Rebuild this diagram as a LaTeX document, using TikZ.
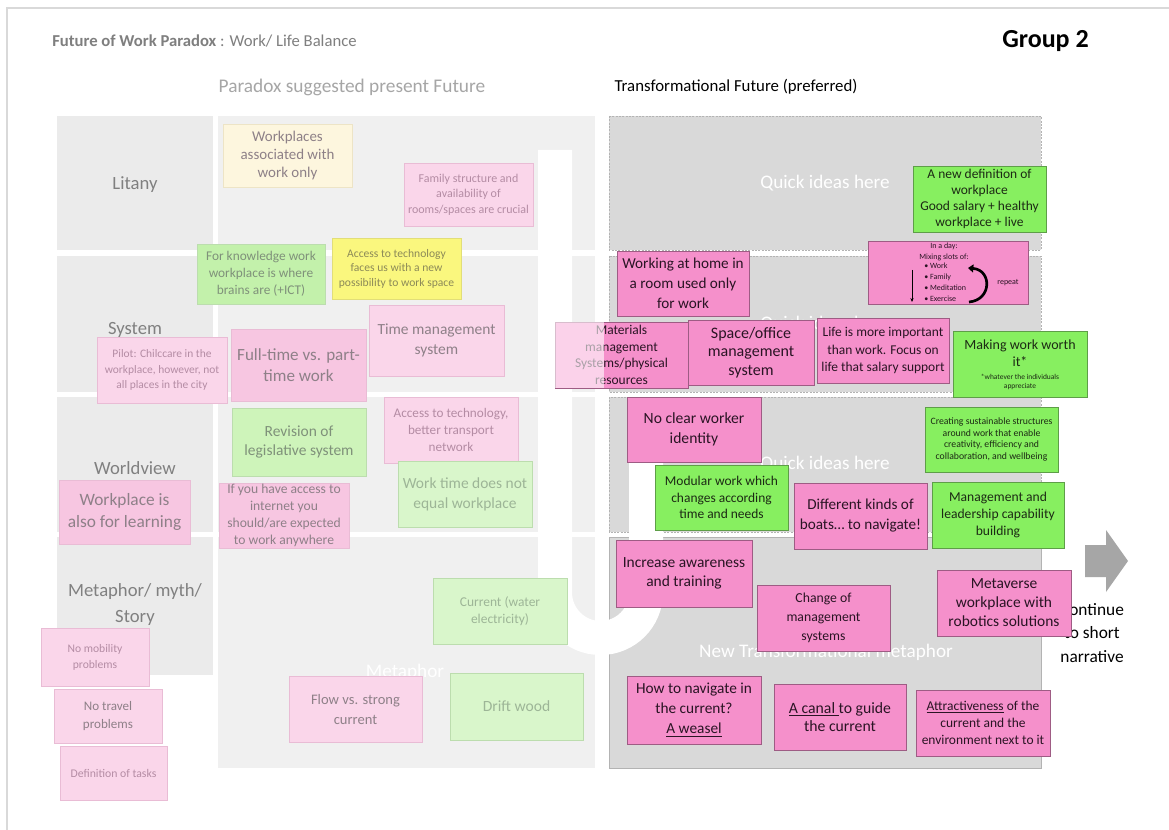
\documentclass[tikz,border=0pt]{standalone}
\usepackage{fontspec}
\setmainfont{Carlito}
\usetikzlibrary{arrows.meta}

\definecolor{frameline}{HTML}{D9D9D9}
\definecolor{titlegray}{HTML}{7F7F7F}
\definecolor{headgray}{HTML}{A6A6A6}
\definecolor{labelcell}{HTML}{EBEBEB}
\definecolor{contentcell}{HTML}{F0F0F0}
\definecolor{labeltext}{HTML}{808080}
\definecolor{panelfill}{HTML}{D9D9D9}
\definecolor{paneledge}{HTML}{B3B3B3}
\definecolor{arrowgray}{HTML}{A6A6A6}
% faded notes of the present-future side
\definecolor{pinkpale}{HTML}{FAD6EA}
\definecolor{pinkmid}{HTML}{F7C6E1}
\definecolor{pinkpaleedge}{HTML}{E9BCD5}
\definecolor{greenstrong}{HTML}{C3F1AB}
\definecolor{greenmid}{HTML}{CEF4BA}
\definecolor{greenpale}{HTML}{D9F6CB}
\definecolor{greenpaleedge}{HTML}{BCDDAE}
\definecolor{yellowpale}{HTML}{FAF77E}
\definecolor{yellowedge}{HTML}{E2DE78}
\definecolor{creampale}{HTML}{FDF6DE}
\definecolor{creamedge}{HTML}{EDE4C6}
\definecolor{fadetext}{HTML}{8E8088}
\definecolor{fadegreentext}{HTML}{7F917A}
\definecolor{fadegreenlight}{HTML}{9DB597}
\definecolor{fadesmalltext}{HTML}{B48CA4}
\definecolor{fadeyellowtext}{HTML}{8C8A58}
% bright notes of the transformational side
\definecolor{pinkbright}{HTML}{F590CB}
\definecolor{pinkedge}{HTML}{9E5C84}
\definecolor{greenbright}{HTML}{87EF60}
\definecolor{greenedge}{HTML}{5E9E48}
\definecolor{notetext}{HTML}{2A1424}
\definecolor{greentext}{HTML}{1C2A14}

\newcommand\fz[2]{\fontsize{#1}{#2}\selectfont}

\begin{document}
\begin{tikzpicture}[x=0.75pt, y=-0.75pt,
  wh/.style 2 args={minimum width=#1*0.75pt, minimum height=#2*0.75pt},
  note/.style={rectangle, inner sep=0pt, align=center, line width=0.5pt},
  fpink/.style={note, fill=pinkpale, draw=pinkpaleedge, text=fadetext},
  fpinkmid/.style={note, fill=pinkmid, draw=pinkpaleedge, text=fadetext},
  fgreen/.style={note, fill=greenpale, draw=greenpaleedge, text=fadegreentext},
  fgreenstrong/.style={note, fill=greenstrong, draw=greenpaleedge, text=fadegreentext},
  fyellow/.style={note, fill=yellowpale, draw=yellowedge, text=fadeyellowtext},
  fcream/.style={note, fill=creampale, draw=creamedge, text=fadetext!90!gray},
  bpink/.style={note, fill=pinkbright, draw=pinkedge, text=notetext, line width=0.6pt},
  bgreen/.style={note, fill=greenbright, draw=greenedge, text=greentext, line width=0.6pt},
  panel/.style={fill=panelfill, draw=paneledge, line width=0.6pt, dash pattern=on 1.5pt off 1pt},
  paneltext/.style={text=white, font=\fz{14.4}{17}, inner sep=0pt},
  lab/.style={text=labeltext, font=\fz{14}{19.5}, align=center, inner sep=0pt},
  tiny/.style={text=notetext, font=\fz{6}{8.2}, inner sep=0pt}
]
\useasboundingbox (0,0) rectangle (1169,830);
\fill[white] (0,0) rectangle (1169,830);
\draw[frameline, line width=1.2pt] (7,850) -- (7,8) -- (1190,8);

% headings
\node[anchor=west, inner sep=0pt, font=\fz{12.5}{15}, text=titlegray] (title) at (52,41)
  {\textbf{Future of Work Paradox} : Work/ Life Balance};
\node[anchor=west, inner sep=0pt, font=\bfseries\fz{19.5}{23}] (group) at (1002,41) {Group 2};
\node[inner sep=0pt, font=\fz{14.5}{17}, text=headgray] (lefthead) at (352,87) {Paradox suggested present Future};
\node[inner sep=0pt, font=\fz{12.6}{15}] (righthead) at (736,87) {Transformational Future (preferred)};

% layer grid of the present-future side
\fill[labelcell] (57,116) rectangle (213,250);
\fill[labelcell] (57,256) rectangle (213,392);
\fill[labelcell] (57,397) rectangle (213,532);
\fill[labelcell] (57,537) rectangle (213,675);
\fill[contentcell] (218,116) rectangle (595,250);
\fill[contentcell] (218,256) rectangle (595,392);
\fill[contentcell] (218,397) rectangle (595,532);
\fill[contentcell] (218,537) rectangle (595,768);

\node[lab] (litany) at (135,185) {Litany};
\node[lab] (system) at (135,330) {System};
\node[lab] (worldview) at (135,468) {Worldview};
\node[lab] (myth) at (135,605) {Metaphor/ myth/\\Story};
\node[paneltext] (metaphorwm) at (405,672) {Metaphor};

% panels of the transformational side
\draw[panel] (609,116) rectangle (1041,250);
\draw[panel] (609,256) rectangle (1041,392);
\draw[panel] (609,397) rectangle (1041,532);
\draw[fill=panelfill, draw=paneledge, line width=0.6pt] (609,537) rectangle (1041,768);
\node[paneltext] (quick1) at (825,183) {Quick ideas here};
\node[paneltext] (quick2) at (825,324) {Quick ideas here};
\node[paneltext] (quick3) at (825,464) {Quick ideas here};
\node[paneltext] (newmeta) at (826,652) {New Transformational metaphor};

% white U-turn band between the two sides
\draw[white, line width=25.5pt] (555,150) -- (555,592.5)
  arc[start angle=180, end angle=360, radius=34.125pt] -- (646,400);

% faded notes
\node[fcream, wh={129}{63}, font=\fz{11.2}{13.5}] (workonly) at (287.5,155.5) {Workplaces\\associated with\\work only};
\node[fpink, wh={129}{63}, text=fadesmalltext, font=\fz{9}{11.5}] (family) at (468.5,194.5) {Family structure and\\availability of\\rooms/spaces are crucial};
\node[fgreenstrong, wh={128}{60}, font=\fz{10}{12.6}] (brains) at (261,274) {For knowledge work\\workplace is where\\brains are (+ICT)};
\node[fyellow, wh={129}{61}, font=\fz{8.7}{10.9}] (techspace) at (396.5,268.5) {Access to technology\\faces us with a new\\possibility to work space};
\node[fpink, wh={135}{71}, font=\fz{11.6}{15}] (timemgmt) at (436.5,340.5) {Time management\\system};
\node[fpink, wh={130}{66}, text=fadesmalltext, font=\fz{8.6}{11.6}] (pilot) at (162,370) {Pilot: Chilccare in the\\workplace, however, not\\all places in the city};
\node[fpinkmid, wh={135}{72}, font=\fz{12.8}{16}] (fulltime) at (298.5,365) {Full-time vs. part-\\time work};
\node[fgreen, fill=greenmid, wh={134}{68}, font=\fz{11.6}{14.7}] (legis) at (299,442) {Revision of\\legislative system};
\node[fpink, wh={134}{66}, text=fadesmalltext, font=\fz{9.9}{12.7}] (transport) at (451,430) {Access to technology,\\better transport\\network};
\node[fgreen, wh={134}{66}, text=fadegreenlight, font=\fz{11.6}{15}] (worktime) at (465,494) {Work time does not\\equal workplace};
\node[fpinkmid, wh={131}{64}, font=\fz{13}{17.2}] (learning) at (124.5,512) {Workplace is\\also for learning};
\node[fpinkmid, wh={130}{65}, font=\fz{10.2}{12.9}] (anywhere) at (284,515.5) {If you have access to\\internet you\\should/are expected\\to work anywhere};
\node[fgreen, wh={134}{66}, text=fadegreenlight, font=\fz{10.1}{13}] (current) at (500,611) {Current (water\\electricity)};
\node[fpink, wh={108}{58}, text=fadesmalltext, font=\fz{8.7}{12}] (nomobility) at (95,657) {No mobility\\problems};
\node[fpink, wh={108}{54}, font=\fz{9.8}{14}] (notravel) at (108,716) {No travel\\problems};
\node[fpink, wh={107}{54}, text=fadesmalltext, font=\fz{8.8}{11}] (tasks) at (113.5,773) {Definition of tasks};
\node[fpink, wh={133}{66}, font=\fz{10.9}{15}] (flow) at (355.5,709) {Flow vs. strong\\current};
\node[fgreen, wh={133}{67}, text=fadegreenlight, font=\fz{11.7}{14}] (drift) at (516.5,706.5) {Drift wood};

% continuation arrow and its caption
\fill[arrowgray] (1085,545) -- (1106,545) -- (1106,530) -- (1128,561) -- (1106,592) -- (1106,577) -- (1085,577) -- cycle;
\node[inner sep=0pt, align=center, font=\fz{13}{17.3}] (narrative) at (1092,633) {Continue\\to short\\narrative};

% bright notes
\node[bgreen, wh={133}{66}, font=\fz{10.1}{12.2}] (newdef) at (979.5,199) {A new definition of\\workplace\\Good salary + healthy\\workplace + live};

\node[bpink, wh={160}{63}] (inaday) at (948,272.5) {};
\node[tiny, align=center] (dayhead) at (944,252) {In a day:\\Mixing slots of:};
\node[tiny, align=left, anchor=north west] (dayslots) at (924,263) {• Work\\• Family\\• Meditation\\• Exercise};
\draw[-{Stealth[length=3pt,width=2.5pt]}, line width=0.6pt] (912,270) -- (912,302);
\draw[line width=2pt, -{Triangle[length=4pt,width=6pt]}] (969,302) .. controls (992,300) and (992,270) .. (968,268);
\node[tiny] (repeatlbl) at (1008,283) {repeat};

\node[bpink, wh={132}{65}, font=\fz{11.4}{15}] (home) at (683,283.5) {Working at home in\\a room used only\\for work};
\node[bpink, wh={133}{66}, font=\fz{10.1}{12.4}] (materials) at (621.5,355) {Materials\\management\\Systems/physical\\resources};
\fill[white, opacity=0.6] (555.2,321.7) rectangle (604,388.3);
\node[bpink, wh={126}{65}, font=\fz{12}{13.8}] (space) at (751,352.5) {Space/office\\management\\system};
\node[bpink, wh={132}{65}, font=\fz{10.1}{13.4}] (life) at (883,350.5) {Life is more important\\than work. Focus on\\life that salary support};

\node[bgreen, wh={134}{66}] (worth) at (1020,364) {};
\node[inner sep=0pt, align=center, text=greentext, font=\fz{10.5}{12.6}] (worthmain) at (1020,353) {Making work worth\\it*};
\node[inner sep=0pt, align=center, text=greentext, font=\fz{5.6}{7}] (worthnote) at (1020,382) {*whatever the individuals\\appreciate};

\node[bpink, wh={134}{65}, font=\fz{11.7}{14.5}] (identity) at (694,429.5) {No clear worker\\identity};
\node[bgreen, wh={133}{65}, font=\fz{7.3}{8.7}] (sustain) at (991.5,439.5) {Creating sustainable structures\\around work that enable\\creativity, efficiency and\\collaboration, and wellbeing};
\node[bgreen, wh={133}{65}, font=\fz{10.1}{12.4}] (modular) at (721.5,497.5) {Modular work which\\changes according\\time and needs};
\node[bpink, wh={133}{66}, font=\fz{11.4}{15}] (boats) at (860.5,516) {Different kinds of\\boats… to navigate!};
\node[bgreen, wh={132}{66}, font=\fz{10.2}{12.8}] (leader) at (998,515) {Management and\\leadership capability\\building};
\node[bpink, wh={136}{67}, font=\fz{11.6}{14.3}] (aware) at (684,573.5) {Increase awareness\\and training};
\node[bpink, wh={133}{66}, font=\fz{10.3}{14.2}] (change) at (823.5,618) {Change of\\management\\systems};
\node[bpink, wh={134}{66}, font=\fz{11.6}{14.2}] (metaverse) at (1004,603) {Metaverse\\workplace with\\robotics solutions};
\node[bpink, wh={134}{68}, font=\fz{11.5}{15}] (weasel) at (694,710) {How to navigate in\\the current?\\\underline{A weasel}};
\node[bpink, wh={132}{66}, font=\fz{11.8}{13.9}] (canal) at (840,717) {\underline{A canal\ }to guide\\the current};
\node[bpink, wh={134}{66}, font=\fz{10.1}{12.8}] (attract) at (983,723) {\underline{Attractiveness} of the\\current and the\\environment next to it};
\end{tikzpicture}
\end{document}
